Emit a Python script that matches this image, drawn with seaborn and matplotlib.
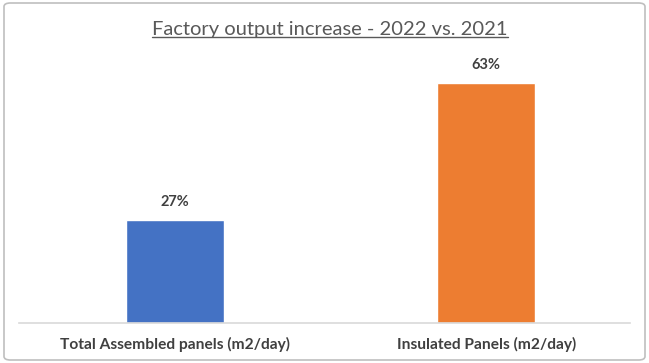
import matplotlib
matplotlib.use("Agg")
import matplotlib.pyplot as plt
import seaborn as sns
import pandas as pd
from matplotlib.patches import FancyBboxPatch
from matplotlib.lines import Line2D

categories = ["Total Assembled panels (m2/day)", "Insulated Panels (m2/day)"]
values = [27, 63]
labels = ["27%", "63%"]
colors = ["#4472C4", "#ED7D31"]
title = "Factory output increase - 2022 vs. 2021"

sns.set_theme(style="white")
plt.rcParams['font.family'] = ['Lato', 'DejaVu Sans']

df = pd.DataFrame({"cat": categories, "val": values})

fig = plt.figure(figsize=(6.49, 3.63), dpi=100)
ax = fig.add_axes([19/649, 1 - 323/363, (642-19)/649, (323-60)/363])
sns.barplot(data=df, x="cat", y="val", hue="cat", palette=colors, width=0.315,
            legend=False, ax=ax, saturation=1)
ax.set_ylim(0, 69)
ax.set_xlim(-0.5, 1.5)
ax.set_yticks([])
ax.set_xlabel("")
ax.set_ylabel("")
for s in ["top", "right", "left"]:
    ax.spines[s].set_visible(False)
ax.spines["bottom"].set_color("#d9d9d9")
ax.spines["bottom"].set_linewidth(1.2)
ax.spines["bottom"].set_bounds(-0.5, 1.46)
ax.tick_params(axis="x", length=0, pad=10)
for t in ax.get_xticklabels():
    t.set_fontsize(11.2)
    t.set_fontweight("bold")
    t.set_color("#404040")

for i, (v, lab) in enumerate(zip(values, labels)):
    ax.annotate(lab, (i, v), xytext=(0, 8), textcoords="offset points",
                ha="center", va="bottom", fontsize=10.5, fontweight="bold", color="#404040")

tt = fig.text(330/649, 1 - 29/363, title, ha="center", va="center", fontsize=14.5, color="#595959")

# border
fig.patches.append(FancyBboxPatch((4/649, 3/363), 641/649, 357/363,
                                  boxstyle="round,pad=0,rounding_size=0.01",
                                  transform=fig.transFigure, fill=False,
                                  edgecolor="#bfbfbf", linewidth=1.2))

fig.canvas.draw()
bb = tt.get_window_extent(fig.canvas.get_renderer())
inv = fig.transFigure.inverted()
(x0, y0), (x1, y1) = inv.transform([(bb.x0, bb.y0), (bb.x1, bb.y1)])
fig.add_artist(Line2D([x0, x1], [y0 + 1/363, y0 + 1/363], transform=fig.transFigure,
                      color="#595959", linewidth=1.0))

fig.savefig("out.png", dpi=100)
